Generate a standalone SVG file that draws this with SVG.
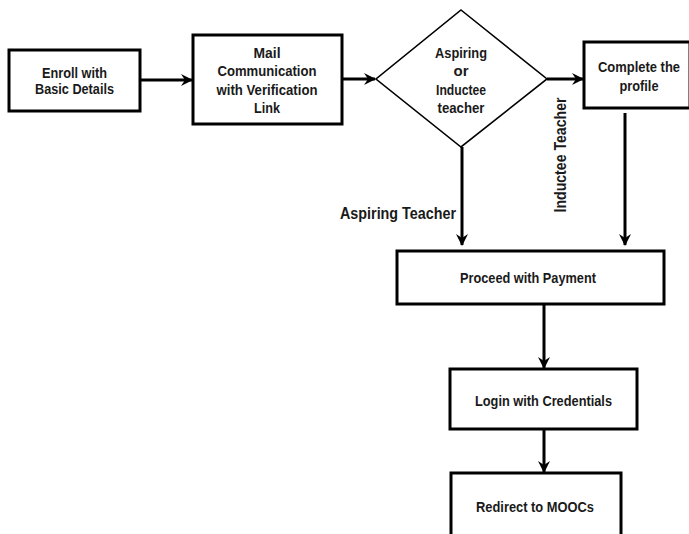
<svg xmlns="http://www.w3.org/2000/svg" width="689" height="534" viewBox="0 0 689 534">
<style>
.box{fill:#fff;stroke:#000;stroke-width:3}
.dia{fill:#fff;stroke:#000;stroke-width:1.6}
.t{font-family:"Liberation Sans",Arial,sans-serif;font-weight:bold;font-size:15px;fill:#1a1a1a;text-anchor:middle}
.l{font-size:16px}
.c{fill:none;stroke:#000;stroke-width:3}
</style>
<defs>
<marker id="ah" viewBox="0 0 12 12" refX="11" refY="6" markerWidth="12" markerHeight="12" markerUnits="userSpaceOnUse" orient="auto">
<path d="M0,0 L12,6 L0,12 L4,6 z" fill="#000"/>
</marker>
</defs>
<rect width="689" height="534" fill="#fff"/>
<g id="connectors">
<line class="c" x1="140" y1="80" x2="192" y2="80" marker-end="url(#ah)"/>
<line class="c" x1="342" y1="79" x2="375" y2="79" marker-end="url(#ah)"/>
<line class="c" x1="547" y1="79" x2="583" y2="79" marker-end="url(#ah)"/>
<line class="c" x1="462" y1="147" x2="462" y2="245" marker-end="url(#ah)"/>
<line class="c" x1="625" y1="113" x2="625" y2="245" marker-end="url(#ah)"/>
<line class="c" x1="544" y1="304" x2="544" y2="368" marker-end="url(#ah)"/>
<line class="c" x1="544" y1="429" x2="544" y2="472" marker-end="url(#ah)"/>
<text class="t l" x="398" y="219" textLength="116" lengthAdjust="spacingAndGlyphs">Aspiring Teacher</text>
<text class="t l" transform="translate(566,155) rotate(-90)" textLength="115" lengthAdjust="spacingAndGlyphs">Inductee Teacher</text>
</g>
<g id="enroll">
<rect class="box" x="9" y="50" width="131" height="61"/>
<text class="t" x="74.5" y="78" textLength="65" lengthAdjust="spacingAndGlyphs">Enroll with</text>
<text class="t" x="74.5" y="94" textLength="79" lengthAdjust="spacingAndGlyphs">Basic Details</text>
</g>
<g id="mail">
<rect class="box" x="193" y="35" width="149" height="89"/>
<text class="t" x="267" y="58" textLength="27" lengthAdjust="spacingAndGlyphs">Mail</text>
<text class="t" x="267" y="76" textLength="99" lengthAdjust="spacingAndGlyphs">Communication</text>
<text class="t" x="267" y="95" textLength="101" lengthAdjust="spacingAndGlyphs">with Verification</text>
<text class="t" x="267" y="113" textLength="26" lengthAdjust="spacingAndGlyphs">Link</text>
</g>
<g id="decision">
<polygon class="dia" points="461,10 547,79 461,147 376,79"/>
<text class="t" x="461" y="58" textLength="52" lengthAdjust="spacingAndGlyphs">Aspiring</text>
<text class="t" x="461" y="76">or</text>
<text class="t" x="461" y="95" textLength="50" lengthAdjust="spacingAndGlyphs">Inductee</text>
<text class="t" x="461" y="113" textLength="47" lengthAdjust="spacingAndGlyphs">teacher</text>
</g>
<g id="complete">
<rect class="box" x="584" y="42" width="106" height="66"/>
<text class="t" x="639" y="72" textLength="82" lengthAdjust="spacingAndGlyphs">Complete the</text>
<text class="t" x="639" y="91" textLength="39" lengthAdjust="spacingAndGlyphs">profile</text>
</g>
<g id="payment">
<rect class="box" x="397" y="251" width="267" height="53"/>
<text class="t" x="528" y="283" textLength="136" lengthAdjust="spacingAndGlyphs">Proceed with Payment</text>
</g>
<g id="login">
<rect class="box" x="450" y="369" width="187" height="60"/>
<text class="t" x="543.5" y="406" textLength="137" lengthAdjust="spacingAndGlyphs">Login with Credentials</text>
</g>
<g id="redirect">
<rect class="box" x="451" y="473" width="170" height="70"/>
<text class="t" x="535" y="512" textLength="118" lengthAdjust="spacingAndGlyphs">Redirect to MOOCs</text>
</g>
</svg>
